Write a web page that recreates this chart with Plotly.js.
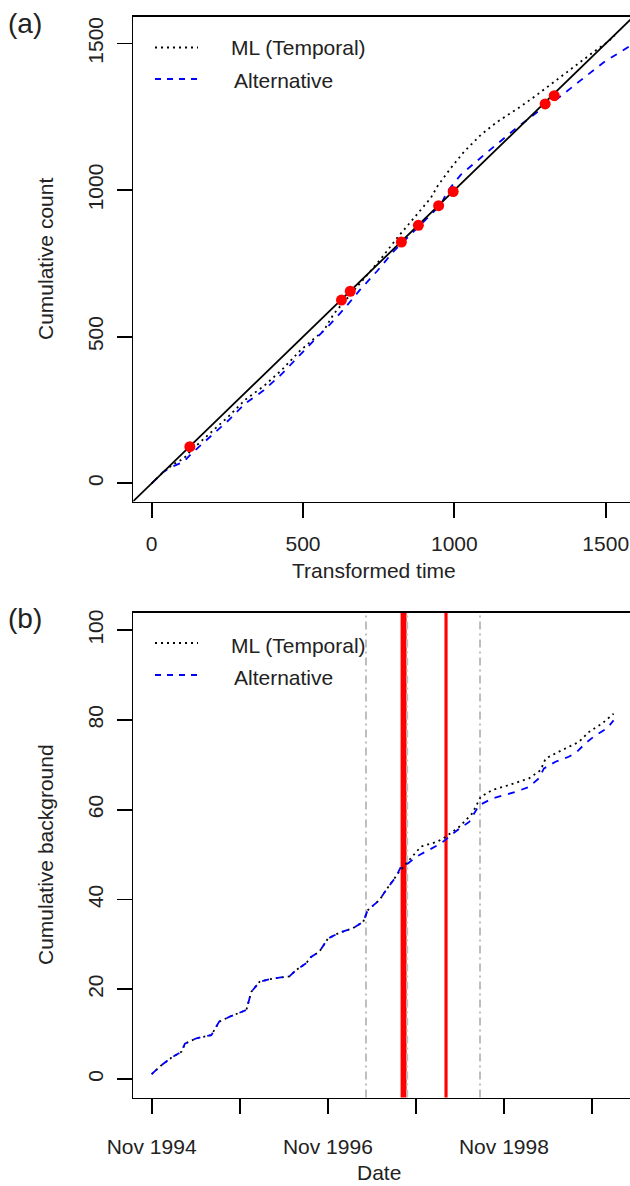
<!DOCTYPE html>
<html>
<head>
<meta charset="utf-8">
<script src="https://cdn.plot.ly/plotly-3.0.1.min.js"></script>
<style>html,body{margin:0;padding:0;background:#fff;overflow:hidden}#chart{width:630px;height:1186px}</style>
</head>
<body>
<div id="chart"></div>
<script>
// ---------- Panel (a) data ----------
const topMLTime  = [0, 40, 70, 105, 132, 199, 254, 309, 370, 430, 491, 535, 568, 601, 657, 701, 756, 811, 866, 922, 944, 988, 1032, 1087, 1142, 1209, 1264, 1308, 1385, 1474, 1507, 1530];
const topMLCount = [0, 40, 64, 84, 114, 176, 228, 285, 331, 387, 453, 492, 520, 577, 645, 701, 764, 837, 905, 973, 1013, 1075, 1131, 1188, 1233, 1278, 1318, 1352, 1414, 1482, 1505, 1528];
const topAltTime  = [0, 38, 66, 105, 132, 199, 254, 309, 370, 430, 491, 530, 590, 640, 690, 745, 800, 828, 899, 955, 977, 1021, 1098, 1197, 1297, 1341, 1418, 1495, 1584, 1640];
const topAltCount = [0, 39, 56, 73, 102, 164, 215, 272, 317, 373, 441, 481, 543, 600, 662, 724, 792, 820, 894, 950, 996, 1052, 1120, 1205, 1284, 1312, 1375, 1437, 1494, 1530];
const diagEnds = [-200, 1800];
const eventTime  = [126, 627, 656, 825, 881, 948, 996, 1300, 1330];
const eventCount = [125, 625, 655, 823, 880, 947, 995, 1294, 1322];
const topTicks = [0, 500, 1000, 1500];

// ---------- Panel (b) data ----------
const bgAltDate = ['1994-11-01','1994-12-12','1995-01-23','1995-03-05','1995-03-19','1995-05-06','1995-07-07','1995-08-08','1995-09-21','1995-11-29','1995-12-19','1996-01-23','1996-03-18','1996-05-26','1996-06-22','1996-08-03','1996-08-23','1996-09-27','1996-11-01','1996-12-19','1997-02-12','1997-03-27','1997-04-15','1997-06-03','1997-06-30','1997-08-11','1997-08-31','1997-09-28','1997-11-01','1997-12-26','1998-02-13','1998-03-19','1998-04-30','1998-06-10','1998-07-21','1998-09-14','1998-12-20','1999-02-13','1999-03-26','1999-04-16','1999-06-03','1999-07-28','1999-08-31','1999-10-05','1999-11-16','2000-01-02','2000-01-30'];
const bgAlt = [1.1,3.1,4.8,6.1,7.9,9.1,9.8,12.8,13.9,15.4,19.4,21.7,22.4,22.9,24.3,25.8,27.2,28.4,31.3,32.6,33.6,35.0,37.6,39.9,42.1,45.1,47.3,48.0,49.5,51.0,52.5,54.0,55.8,57.3,61.0,62.5,64.0,65.1,67.0,69.2,70.7,71.8,72.9,74.8,76.6,78.1,79.9];
const bgMLDate = ['1994-11-01','1994-12-12','1995-01-23','1995-03-05','1995-03-19','1995-05-06','1995-07-07','1995-08-08','1995-09-21','1995-11-29','1995-12-19','1996-01-23','1996-03-18','1996-05-26','1996-06-22','1996-08-03','1996-08-23','1996-09-27','1996-11-01','1996-12-19','1997-02-12','1997-03-27','1997-04-15','1997-06-03','1997-06-30','1997-08-11','1997-08-24','1997-09-28','1997-11-22','1998-01-30','1998-03-05','1998-04-30','1998-06-23','1998-07-28','1998-09-14','1998-11-22','1999-02-13','1999-04-02','1999-04-23','1999-06-30','1999-09-08','1999-10-19','1999-12-13','2000-01-30'];
const bgML = [1.1,3.1,4.8,6.1,7.9,9.1,9.8,12.8,13.9,15.4,19.4,21.7,22.4,22.9,24.3,25.8,27.2,28.4,31.3,32.6,33.6,35.0,37.6,39.9,42.1,45.1,46.2,48.4,51.8,52.9,54.0,56.2,59.2,62.9,64.4,65.5,67.0,68.8,71.4,73.3,75.1,77.3,79.2,81.4];
const grayDates = ['1997-04-08','1997-09-26','1998-07-25'];
const redThickDates = ['1997-09-11'];
const redThinDates = ['1998-03-03','1998-03-09'];
const bottomTickDates = ['1994-11-01','1995-11-01','1996-11-01','1997-11-01','1998-11-01','1999-11-01'];
const bottomTickText = ['Nov 1994','','Nov 1996','','Nov 1998',''];
const bottomYTicks = [0, 20, 40, 60, 80, 100];
const legendLabels = ['ML (Temporal)', 'Alternative'];

// ---------- layout helpers ----------
const W = 630, H = 1186;
const fx = p => p / W;
const fy = p => 1 - p / H;
const FONT = 'Liberation Sans, Arimo, Arial, Helvetica, sans-serif';
const TXT = '#222222';

const traces = [
  {x: topMLTime, y: topMLCount, xaxis: 'x', yaxis: 'y', mode: 'lines', line: {color: '#000', width: 1.8, dash: '2px,4px'}, hoverinfo: 'skip'},
  {x: topAltTime, y: topAltCount, xaxis: 'x', yaxis: 'y', mode: 'lines', line: {color: '#0000ff', width: 1.8, dash: '7px,7px'}, hoverinfo: 'skip'},
  {x: diagEnds, y: diagEnds, xaxis: 'x', yaxis: 'y', mode: 'lines', line: {color: '#000', width: 1.8}, hoverinfo: 'skip'},
  {x: eventTime, y: eventCount, xaxis: 'x', yaxis: 'y', mode: 'markers', marker: {color: '#ff0000', size: 11}, hoverinfo: 'skip'},
  {x: bgMLDate, y: bgML, xaxis: 'x2', yaxis: 'y2', mode: 'lines', line: {color: '#000', width: 1.8, dash: '2px,4px'}, hoverinfo: 'skip'},
  {x: bgAltDate, y: bgAlt, xaxis: 'x2', yaxis: 'y2', mode: 'lines', line: {color: '#0000ff', width: 1.8, dash: '7px,7px'}, hoverinfo: 'skip'}
];

const shapes = [];
redThickDates.forEach(d => shapes.push({type: 'line', xref: 'x2', yref: 'y2 domain', x0: d, x1: d, y0: 0, y1: 1, layer: 'below', line: {color: '#ff0000', width: 6}}));
redThinDates.forEach(d => shapes.push({type: 'line', xref: 'x2', yref: 'y2 domain', x0: d, x1: d, y0: 0, y1: 1, layer: 'below', line: {color: '#ff0000', width: 1.7}}));
grayDates.forEach(d => shapes.push({type: 'line', xref: 'x2', yref: 'y2 domain', x0: d, x1: d, y0: 0, y1: 1, layer: 'below', line: {color: '#bebebe', width: 2, dash: '8px,4px,2px,4px'}}));

// legend samples (paper coords)
const legendRows = [
  {y: [47.5, 79], ty: [48, 80]},
  {y: [643, 675], ty: [645, 677]}
];
const annotations = [];
legendRows.forEach(r => {
  shapes.push({type: 'line', xref: 'paper', yref: 'paper', x0: fx(155), x1: fx(198), y0: fy(r.y[0]), y1: fy(r.y[0]), line: {color: '#000', width: 1.8, dash: '2px,4px'}});
  shapes.push({type: 'line', xref: 'paper', yref: 'paper', x0: fx(155), x1: fx(200), y0: fy(r.y[1]), y1: fy(r.y[1]), line: {color: '#0000ff', width: 1.8, dash: '6px,6px'}});
  annotations.push({xref: 'paper', yref: 'paper', x: fx(229), y: fy(r.ty[0]), xanchor: 'left', yanchor: 'middle', showarrow: false, text: legendLabels[0], font: {family: FONT, size: 21, color: TXT}});
  annotations.push({xref: 'paper', yref: 'paper', x: fx(232), y: fy(r.ty[1]), xanchor: 'left', yanchor: 'middle', showarrow: false, text: legendLabels[1], font: {family: FONT, size: 21, color: TXT}});
});
// panel labels and axis titles
annotations.push({xref: 'paper', yref: 'paper', x: fx(6), y: fy(24), xanchor: 'left', yanchor: 'middle', showarrow: false, text: '(a)', font: {family: FONT, size: 28, color: TXT}});
annotations.push({xref: 'paper', yref: 'paper', x: fx(6), y: fy(619), xanchor: 'left', yanchor: 'middle', showarrow: false, text: '(b)', font: {family: FONT, size: 28, color: TXT}});
annotations.push({xref: 'paper', yref: 'paper', x: fx(374), y: fy(570), xanchor: 'center', yanchor: 'middle', showarrow: false, text: 'Transformed time', font: {family: FONT, size: 21, color: TXT}});
annotations.push({xref: 'paper', yref: 'paper', x: fx(379), y: fy(1172), xanchor: 'center', yanchor: 'middle', showarrow: false, text: 'Date', font: {family: FONT, size: 21, color: TXT}});
annotations.push({xref: 'paper', yref: 'paper', x: fx(45), y: fy(259), xanchor: 'center', yanchor: 'middle', textangle: -90, showarrow: false, text: 'Cumulative count', font: {family: FONT, size: 21, color: TXT}});
annotations.push({xref: 'paper', yref: 'paper', x: fx(45), y: fy(855), xanchor: 'center', yanchor: 'middle', textangle: -90, showarrow: false, text: 'Cumulative background', font: {family: FONT, size: 21, color: TXT}});

const axisCommon = {
  showgrid: false, zeroline: false, showline: true, linecolor: '#000', linewidth: 1.8,
  ticks: 'outside', ticklen: 15, tickwidth: 1.8, tickcolor: '#000',
  tickfont: {family: FONT, size: 21, color: TXT}, automargin: false, fixedrange: true
};

const layout = {
  width: W, height: H,
  margin: {l: 0, r: 0, t: 0, b: 0},
  paper_bgcolor: '#fff', plot_bgcolor: '#fff',
  showlegend: false,
  font: {family: FONT, color: TXT},
  xaxis: Object.assign({}, axisCommon, {domain: [fx(133.3), 1], range: [-60.8, 1580.3], tickmode: 'array', tickvals: topTicks, mirror: true, anchor: 'y', ticklabelstandoff: 7}),
  yaxis: Object.assign({}, axisCommon, {domain: [fy(501.5), fy(16.7)], range: [-62.1, 1591.4], tickmode: 'array', tickvals: topTicks, tickangle: -90, anchor: 'x', ticklabelstandoff: 5}),
  xaxis2: Object.assign({}, axisCommon, {type: 'date', domain: [fx(133.3), 1], range: ['1994-08-17', '2000-04-07'], tickmode: 'array', tickvals: bottomTickDates, ticktext: bottomTickText, mirror: true, anchor: 'y2', ticklabelstandoff: 14}),
  yaxis2: Object.assign({}, axisCommon, {domain: [fy(1097.5), fy(612.7)], range: [-4.1, 103.9], tickmode: 'array', tickvals: bottomYTicks, tickangle: -90, anchor: 'x2', ticklabelstandoff: 5}),
  shapes: shapes,
  annotations: annotations
};

Plotly.newPlot('chart', traces, layout, {staticPlot: true, displayModeBar: false});
</script>
</body>
</html>
